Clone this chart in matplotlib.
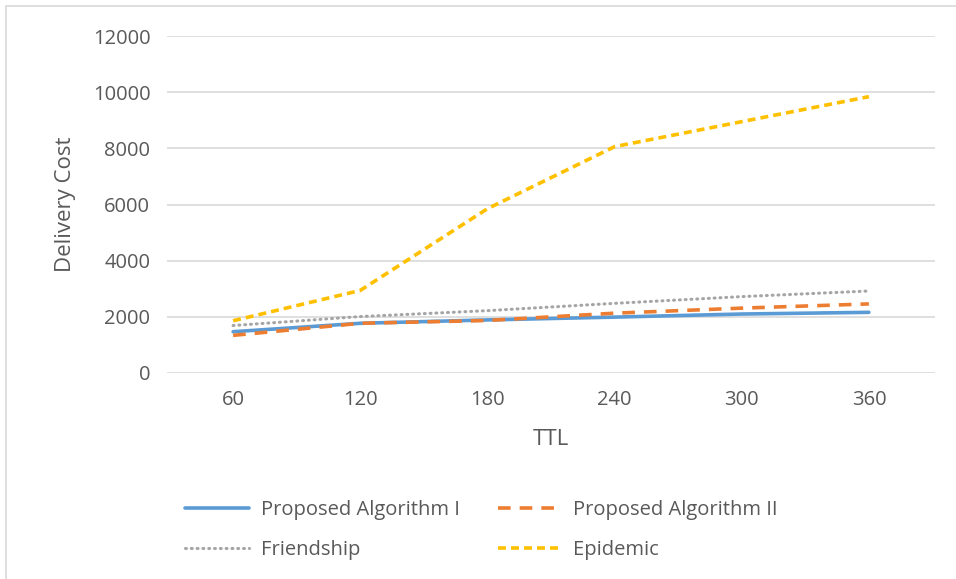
import matplotlib.pyplot as plt
from matplotlib.patches import Rectangle

# values
ttl = ["60", "120", "180", "240", "300", "360"]
algo1 = [1470, 1770, 1890, 1990, 2100, 2160]
algo2 = [1340, 1770, 1870, 2130, 2310, 2460]
friendship = [1690, 2010, 2220, 2480, 2720, 2920]
epidemic = [1860, 2940, 5850, 8060, 8950, 9840]

plt.rcParams['font.family'] = ['Open Sans', 'DejaVu Sans']
txt = "#595959"

fig = plt.figure(figsize=(9.56, 5.79), dpi=100)
ax = fig.add_axes([167/956, 1 - 373/579, (935-167)/956, (373-36)/579])

x = range(len(ttl))
lw = 2.6
h1, = ax.plot(x, algo1, color="#5B9BD5", lw=lw, solid_capstyle="round", label="Proposed Algorithm I")
h2, = ax.plot(x, algo2, color="#ED7D31", lw=lw, dashes=(3.5, 2.5), label="Proposed Algorithm II")
h3, = ax.plot(x, friendship, color="#A5A5A5", lw=lw - 0.4, linestyle=(0, (0.3, 1.6)),
              dash_capstyle="round", label="Friendship")
h4, = ax.plot(x, epidemic, color="#FFC000", lw=lw, dashes=(2.2, 1.4), label="Epidemic")

ax.set_xlim(-0.52, 5.52)
ax.set_ylim(0, 12000)
ax.set_yticks(range(0, 12001, 2000))
ax.set_xticks(list(x))
ax.set_xticklabels(ttl)
ax.grid(axis="y", color="#D9D9D9", lw=1.2)
ax.set_axisbelow(True)
for s in ax.spines.values():
    s.set_visible(False)
ax.tick_params(length=0, labelsize=14.5, colors=txt, pad=12)
ax.tick_params(axis="x", pad=12)

ax.set_ylabel("Delivery Cost", fontsize=16, color=txt, labelpad=12)
ax.set_xlabel("TTL", fontsize=16, color=txt, labelpad=14)

# row-major order like the reference legend
handles = [h1, h3, h2, h4]
leg = fig.legend(handles=handles, labels=[h.get_label() for h in handles],
                 loc="upper left", bbox_to_anchor=(185/956, 1 - 500/579), ncol=2,
                 frameon=False, fontsize=14.5, handlelength=3.2, handletextpad=0.55,
                 columnspacing=1.9, labelspacing=1.0, labelcolor=txt,
                 borderpad=0, borderaxespad=0)

# light border on top/left like the reference crop
fig.patches.append(Rectangle((6/956, -0.1), 1.2, 1 - 6/579 + 0.1, transform=fig.transFigure,
                             fill=False, edgecolor="#D9D9D9", lw=1.2))

fig.savefig("out.png", dpi=100)
